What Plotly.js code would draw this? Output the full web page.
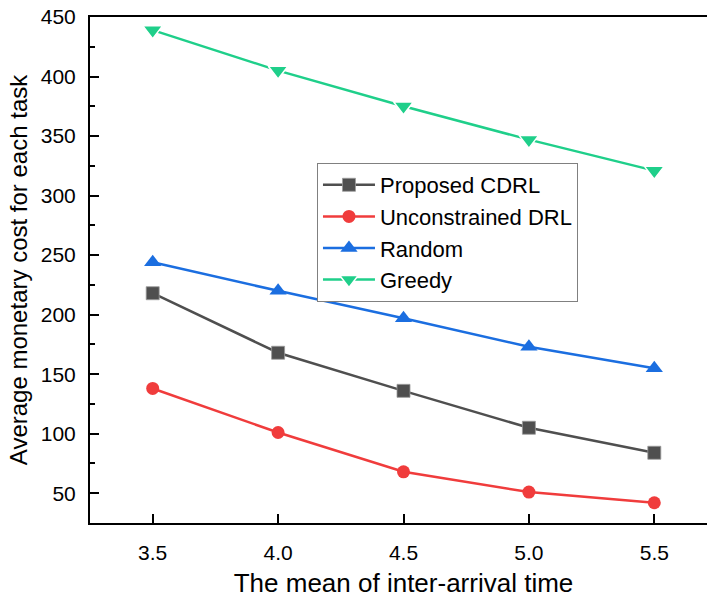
<!DOCTYPE html>
<html>
<head>
<meta charset="utf-8">
<script src="https://cdn.plot.ly/plotly-3.0.1.min.js"></script>
<style>
html,body{margin:0;padding:0;overflow:hidden;background:#fff;}
#chart{width:717px;height:598px;}
</style>
</head>
<body>
<div id="chart"></div>
<script>
const xValues = [3.5, 4.0, 4.5, 5.0, 5.5];
const proposedCDRL = [218, 168, 136, 105, 84];
const unconstrainedDRL = [138, 101, 68, 51, 42];
const randomPolicy = [244, 220, 197, 173, 155];
const greedyPolicy = [439, 405, 375, 347, 321];
const seriesNames = ["Proposed CDRL", "Unconstrained DRL", "Random", "Greedy"];
const xTickLabels = ["3.5", "4.0", "4.5", "5.0", "5.5"];
const yTickValues = [50, 100, 150, 200, 250, 300, 350, 400, 450];

const font = "Arial, 'Liberation Sans', sans-serif";

function mk(y, name, color, symbol, size, lineCol, lineW) {
  return {
    x: xValues, y: y, name: name, type: "scatter", mode: "lines+markers",
    line: {color: color, width: 2.5},
    marker: {symbol: symbol, size: size, color: color, line: {color: lineCol, width: lineW}}
  };
}

const data = [
  mk(proposedCDRL, seriesNames[0], "#4f4f4f", "square", 13, "#9a9a9a", 0.8),
  mk(unconstrainedDRL, seriesNames[1], "#f03c3c", "circle", 13, "#f03c3c", 0),
  mk(randomPolicy, seriesNames[2], "#1b6ee0", "triangle-up", 15, "#1b6ee0", 0),
  mk(greedyPolicy, seriesNames[3], "#1fcf8a", "triangle-down", 17, "#ffffff", 1.5)
];

const layout = {
  width: 717, height: 598,
  margin: {l: 90, r: 0, t: 17, b: 75},
  paper_bgcolor: "#fff", plot_bgcolor: "#fff",
  font: {family: font, color: "#000"},
  showlegend: true,
  legend: {
    x: 0.362, y: 0.7115, xanchor: "left", yanchor: "top",
    bgcolor: "#fff", bordercolor: "#808080", borderwidth: 1,
    font: {family: font, size: 22, color: "#000"},
    itemwidth: 52
  },
  xaxis: {
    range: [3.25, 5.75],
    tickvals: xValues, ticktext: xTickLabels,
    ticks: "inside", ticklen: 9, tickwidth: 2, tickcolor: "#000",
    showline: true, linewidth: 2, linecolor: "#000", mirror: true,
    showgrid: false, zeroline: false,
    tickfont: {family: font, size: 21, color: "#000"},
    ticklabelstandoff: 10,
    title: {text: "The mean of inter-arrival time", font: {family: font, size: 26, color: "#000"}, standoff: 12}
  },
  yaxis: {
    range: [25, 450],
    tickvals: yTickValues,
    ticks: "inside", ticklen: 9, tickwidth: 2, tickcolor: "#000",
    minor: {dtick: 25, tick0: 25, ticks: "inside", ticklen: 5, tickwidth: 2, tickcolor: "#000", showgrid: false},
    showline: true, linewidth: 2, linecolor: "#000", mirror: true,
    showgrid: false, zeroline: false,
    tickfont: {family: font, size: 21, color: "#000"},
    ticklabelstandoff: 8,
    title: {text: "Average monetary cost for each task", font: {family: font, size: 24, color: "#000"}, standoff: 6}
  }
};

Plotly.newPlot("chart", data, layout, {displayModeBar: false, staticPlot: true});
</script>
</body>
</html>
